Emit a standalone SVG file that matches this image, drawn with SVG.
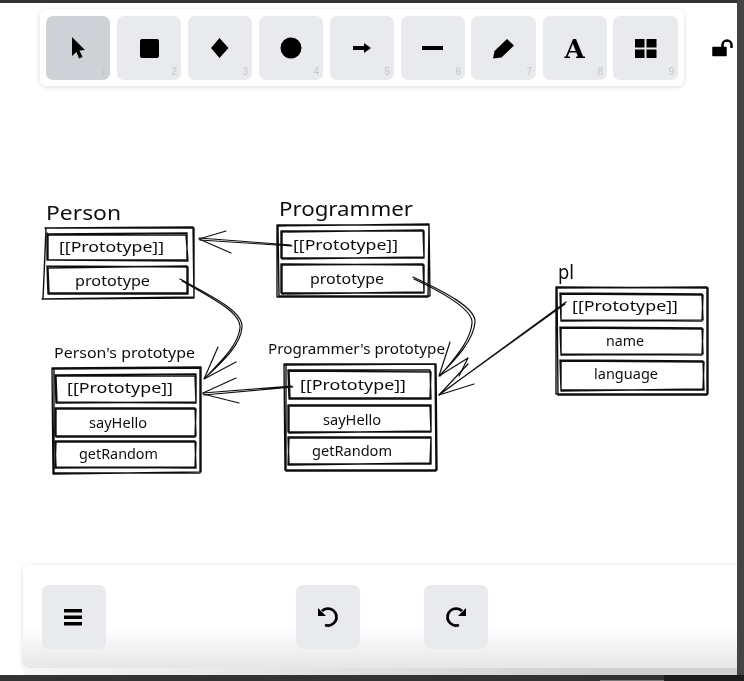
<svg xmlns="http://www.w3.org/2000/svg" width="744" height="681" viewBox="0 0 744 681">
<style>
.s{fill:none;stroke:#111;stroke-width:1.4;stroke-linecap:round;stroke-linejoin:round}
.c{fill:none;stroke:#111;stroke-width:1.2;stroke-linecap:round;stroke-linejoin:round}
.t{font-family:"Noto Sans","Liberation Sans",sans-serif;fill:#111;font-size:14px}
.h{font-family:"Noto Sans","Liberation Sans",sans-serif;fill:#111;font-size:20px}
.b{fill:#e8eaed}
.n{font-family:"Liberation Sans",sans-serif;font-size:10px;fill:#c3c6ca;text-anchor:end}
.p{fill:#fff}
</style>
<defs>
<filter id="sh" x="-5%" y="-20%" width="110%" height="140%"><feDropShadow dx="0" dy="1" stdDeviation="2.5" flood-color="#000" flood-opacity=".14"/></filter>
<filter id="soft" filterUnits="userSpaceOnUse" x="0" y="0" width="744" height="681"><feGaussianBlur stdDeviation="0.35"/></filter>
<linearGradient id="fade" x1="0" y1="0" x2="0" y2="1"><stop offset=".6" stop-color="#fff"/><stop offset="1" stop-color="#e6e6e6"/></linearGradient>
<linearGradient id="strip" gradientUnits="userSpaceOnUse" x1="23" y1="0" x2="600" y2="0"><stop offset="0" stop-color="#f6f6f6"/><stop offset="1" stop-color="#d0d0d0"/></linearGradient>
</defs>
<rect width="744" height="681" fill="#fff"/>
<g filter="url(#soft)">

<g id="toolbar">
<rect x="40" y="9" width="644" height="77" rx="7" class="p" filter="url(#sh)"/>
<rect x="46" y="16" width="64" height="64" rx="7" fill="#ced2d6"/>
<rect x="117" y="16" width="64" height="64" rx="7" class="b"/>
<rect x="188" y="16" width="64" height="64" rx="7" class="b"/>
<rect x="259" y="16" width="64" height="64" rx="7" class="b"/>
<rect x="330" y="16" width="64" height="64" rx="7" class="b"/>
<rect x="401" y="16" width="64" height="64" rx="7" class="b"/>
<rect x="471" y="16" width="65" height="64" rx="7" class="b"/>
<rect x="543" y="16" width="64" height="64" rx="7" class="b"/>
<rect x="613" y="16" width="65" height="64" rx="7" class="b"/>
<path d="M72 37L85 50L79.500 50.500L82.500 57L79 58.500L76.500 52L72 56Z" fill="#000"/>
<rect x="140" y="39" width="19" height="19" rx="2" fill="#000"/>
<path d="M219.500 38L228.500 48L219.500 58L211 48Z" fill="#000"/>
<circle cx="291" cy="48" r="10.500" fill="#000"/>
<path d="M353 46H364V43L371 48L364 53V50H353Z" fill="#000"/>
<rect x="422" y="46" width="21" height="4" fill="#000"/>
<path d="M493 58.500L494.500 51L507 39L514 45.500L501.500 57.500Z" fill="#000"/>
<text x="574.500" y="57.500" text-anchor="middle" font-family="DejaVu Serif,serif" font-weight="700" font-size="26" fill="#000">A</text>
<path d="M635 39H644.500V47.500H635ZM646.500 39H656.500V47.500H646.500ZM635 49.500H644.500V58H635ZM646.500 49.500H656.500V58H646.500Z" fill="#000"/>
<path d="M713 47.500H726V55.500H713Z" fill="#000" stroke="#000" stroke-linejoin="round" stroke-width="1.500"/>
<path d="M722.500 47V45A4.500 4.500 0 0 1 731.500 45V48" fill="none" stroke="#000" stroke-width="2.500"/>
<text class="n" x="106" y="75">1</text><text class="n" x="177" y="75">2</text><text class="n" x="248" y="75">3</text><text class="n" x="319" y="75">4</text><text class="n" x="390" y="75">5</text><text class="n" x="461" y="75">6</text><text class="n" x="532" y="75">7</text><text class="n" x="603" y="75">8</text><text class="n" x="674" y="75">9</text>
</g>

<g id="person">
<path class="s" d="M45 228L194 228L194 298L42 299M46 229L43 299L194 297L193 227L47 228"/>
<path class="s" d="M47 234L187 233L187 260L47 260L47 233M48 235L186 235L188 261L48 260Z"/>
<path class="s" d="M47 266L188 267L188 294L48 294L47 266M48 268L187 266L187 293L49 293Z"/>
<text class="h" x="46" y="220" textLength="75" lengthAdjust="spacingAndGlyphs">Person</text>
<text class="t" x="59" y="252" textLength="105" lengthAdjust="spacingAndGlyphs">[[Prototype]]</text>
<text class="t" x="75" y="286" textLength="75" lengthAdjust="spacingAndGlyphs">prototype</text>
</g>

<g id="programmer">
<path class="s" d="M277 225L429 225L428 297L277 297L277 225M278 226L279 296L430 296L429 224L278 226"/>
<path class="s" d="M281 231L424 231L424 258L281 258L281 231M282 232L423 230L424 257L282 259Z"/>
<path class="s" d="M281 264L424 265L424 293L281 293L281 264M282 265L423 264L424 292L282 294Z"/>
<text class="h" x="279" y="216" textLength="134" lengthAdjust="spacingAndGlyphs">Programmer</text>
<text class="t" x="293" y="250" textLength="105" lengthAdjust="spacingAndGlyphs">[[Prototype]]</text>
<text class="t" x="310" y="284" textLength="74" lengthAdjust="spacingAndGlyphs">prototype</text>
</g>

<g id="persons-prototype">
<path class="s" d="M52 368L201 367L201 472L53 474L52 368M54 369L54 473L200 473L200 368L53 369"/>
<path class="s" d="M55 375L196 374L196 402L56 403L55 375M56 376L195 376L196 403L57 402Z"/>
<path class="s" d="M55 408L195 408L196 436L55 436L55 408M56 409L196 409L195 437L56 437Z"/>
<path class="s" d="M55 441L195 441L196 468L56 467L55 441M56 442L196 442L195 467L55 468Z"/>
<text class="t" x="54" y="358" textLength="141" lengthAdjust="spacingAndGlyphs">Person's prototype</text>
<text class="t" x="67" y="393" textLength="106" lengthAdjust="spacingAndGlyphs">[[Prototype]]</text>
<text class="t" x="89" y="428" textLength="58" lengthAdjust="spacingAndGlyphs">sayHello</text>
<text class="t" x="79" y="459" textLength="79" lengthAdjust="spacingAndGlyphs">getRandom</text>
</g>

<g id="programmers-prototype">
<path class="s" d="M284 364L436 364L437 470L285 470L284 364M286 365L286 471L436 471L435 364L285 365"/>
<path class="s" d="M288 370L430 370L431 399L289 399L288 370M289 371L431 372L430 398L290 398Z"/>
<path class="s" d="M288 405L431 405L431 432L288 432L288 405M289 406L430 406L431 431L289 433Z"/>
<path class="s" d="M288 437L431 437L431 464L289 464L288 437M289 438L431 438L430 463L288 465Z"/>
<text class="t" x="268" y="354" textLength="177" lengthAdjust="spacingAndGlyphs">Programmer's prototype</text>
<text class="t" x="300" y="390" textLength="106" lengthAdjust="spacingAndGlyphs">[[Prototype]]</text>
<text class="t" x="323" y="425" textLength="58" lengthAdjust="spacingAndGlyphs">sayHello</text>
<text class="t" x="312" y="456" textLength="80" lengthAdjust="spacingAndGlyphs">getRandom</text>
</g>

<g id="pl">
<path class="s" d="M556 287L708 288L708 394L556 394L556 287M557 288L558 395L707 395L707 287L557 288"/>
<path class="s" d="M560 293L702 294L703 320L561 321L560 293M561 294L703 295L702 321L561 320Z"/>
<path class="s" d="M560 327L702 328L703 354L561 355L560 327M561 328L703 329L702 355L561 354Z"/>
<path class="s" d="M560 360L703 361L704 390L561 390L560 360M561 361L704 362L703 389L561 391Z"/>
<text class="h" x="558" y="279" textLength="16" lengthAdjust="spacingAndGlyphs">pl</text>
<text class="t" x="572" y="311" textLength="106" lengthAdjust="spacingAndGlyphs">[[Prototype]]</text>
<text class="t" x="606" y="346" textLength="38" lengthAdjust="spacingAndGlyphs">name</text>
<text class="t" x="594" y="379" textLength="64" lengthAdjust="spacingAndGlyphs">language</text>
</g>

<g id="connectors">
<path class="c" d="M291 245L199 238M292 246L200 240"/>
<path class="c" d="M199 239L226 231M199 239L231 253"/>
<path class="c" d="M180 279C215 298 243 312 242 327C241 345 222 362 205 378M182 281C216 300 241 313 240 328C238 346 220 362 205 378"/>
<path class="c" d="M204 379L218 347M204 379L236 362"/>
<path class="c" d="M292 386L203 393M293 387L204 395"/>
<path class="c" d="M203 393L236 378M203 394L239 403"/>
<path class="c" d="M413 277C445 292 476 308 475 322C474 340 455 360 440 375M414 279C446 294 473 310 472 323C471 341 453 360 440 376"/>
<path class="c" d="M439 376L450 342M439 376L468 358L459 376"/>
<path class="c" d="M566 302L439 395M565 304L440 394"/>
<path class="c" d="M439 395L474 384M439 395L468 364"/>
</g>

<g id="bottom-bar">
<rect x="23" y="565" width="740" height="103" rx="7" fill="url(#fade)" filter="url(#sh)"/>
<rect x="42" y="585" width="64" height="64" rx="7" class="b"/>
<rect x="296" y="585" width="64" height="64" rx="7" class="b"/>
<rect x="424" y="585" width="64" height="64" rx="7" class="b"/>
<path d="M64 609H82V612.500H64ZM64 615.500H82V619H64ZM64 622H82V625.500H64Z" fill="#000"/>
<path d="M322 611A8.500 8.500 0 1 1 325 625" fill="none" stroke="#000" stroke-width="2.800"/>
<path d="M318 608V616H326Z" fill="#000"/>
<path d="M462 611A8.500 8.500 0 1 0 459 625" fill="none" stroke="#000" stroke-width="2.800"/>
<path d="M466 608V616H458Z" fill="#000"/>
</g>
<rect x="23" y="668" width="714" height="7" fill="url(#strip)"/>
</g>
<rect width="744" height="3" fill="#333"/>
<rect x="737" y="0" width="7" height="681" fill="#444"/>
<rect x="0" y="675" width="744" height="6" fill="#333"/>
<rect x="664" y="675" width="80" height="6" fill="#1c1c1c"/>
<rect x="600" y="680" width="64" height="1" fill="#777"/>
</svg>
